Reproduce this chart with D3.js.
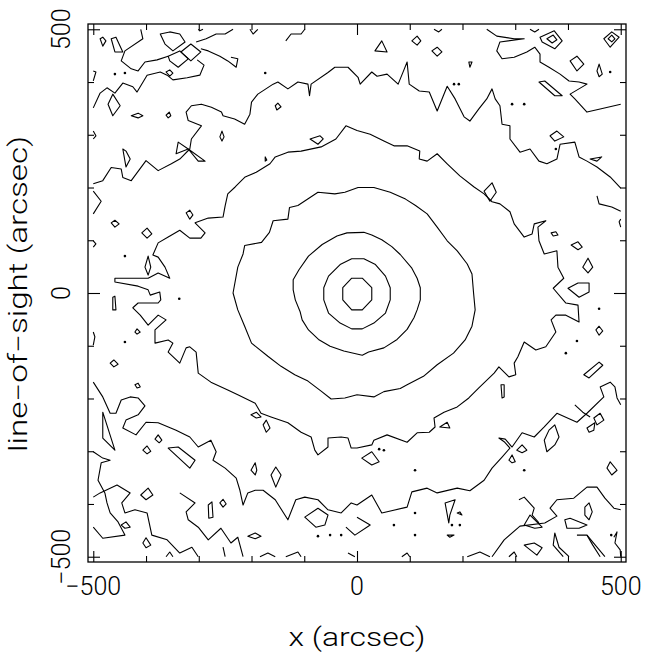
<!DOCTYPE html>
<html>
<head>
<meta charset="utf-8">
<script src="https://cdn.jsdelivr.net/npm/d3@7"></script>
<style>
	body { margin: 0; background: #fff; }
	text { font-family: Roboto, "Liberation Sans", sans-serif; font-weight: 300; font-size: 25px; fill: #000; }
</style>
</head>
<body>
<script>
// contour lines, in arcsec
var innerRing = [[-10,28],[10,28],[28,10],[28,-13],[10,-32],[-10,-32],[-27,-13],[-27,10]];
var ring2 = [[-10,65],[13,65],[35,54],[54,32],[63,10],[63,-13],[54,-38],[32,-57],[10,-68],[-10,-68],[-32,-57],[-54,-38],[-63,-13],[-63,10],[-54,32],[-32,54]];
var ring3 = [[13,115],[28,110],[47,101],[66,88],[82,73],[104,47],[114,28],[120,10],[120,-13],[114,-32],[108,-47],[95,-69],[76,-88],[51,-104],[22,-112],[10,-118],[-25,-110],[-51,-101],[-73,-88],[-92,-70],[-104,-51],[-108,-35],[-117,-13],[-121,6],[-121,25],[-110,44],[-92,70],[-66,92],[-38,108],[-19,114]];
var ring4 = [[2,200],[32,200],[63,191],[92,178],[111,166],[133,150],[152,125],[171,99],[190,80],[209,55],[218,36],[221,0],[224,-32],[218,-63],[205,-89],[183,-114],[152,-136],[126,-158],[95,-174],[82,-181],[51,-187],[32,-197],[0,-193],[-23,-199],[-49,-201],[-68,-186],[-93,-167],[-118,-155],[-144,-139],[-169,-120],[-200,-95],[-213,-63],[-226,-32],[-235,0],[-226,49],[-216,74],[-213,90],[-181,96],[-166,115],[-159,137],[-131,140],[-128,162],[-112,166],[-74,191],[-42,188],[-23,191]];
var ring5 = [[0,308],[25,301],[51,288],[70,279],[95,279],[119,269],[118,254],[133,250],[152,264],[171,245],[195,222],[222,201],[241,188],[256,173],[271,169],[290,154],[298,131],[317,106],[332,112],[336,131],[358,137],[343,125],[345,99],[355,74],[379,80],[381,49],[392,28],[372,9],[396,-19],[419,-23],[421,-55],[396,-42],[377,-42],[368,-51],[377,-74],[358,-102],[339,-108],[317,-93],[305,-121],[298,-133],[301,-155],[288,-159],[269,-140],[260,-152],[231,-180],[212,-199],[190,-216],[165,-226],[146,-237],[148,-254],[137,-264],[114,-265],[95,-283],[57,-269],[32,-279],[28,-288],[0,-294],[-11,-294],[-17,-275],[-30,-273],[-55,-275],[-55,-292],[-74,-307],[-80,-298],[-87,-273],[-106,-264],[-131,-246],[-163,-235],[-182,-228],[-193,-209],[-226,-193],[-245,-184],[-277,-169],[-301,-152],[-305,-112],[-317,-102],[-324,-104],[-336,-133],[-358,-112],[-349,-95],[-358,-89],[-383,-95],[-383,-70],[-362,-51],[-377,-42],[-396,-61],[-411,-42],[-425,-28],[-415,-19],[-377,-19],[-372,-13],[-374,2],[-392,-4],[-396,6],[-415,13],[-459,21],[-459,28],[-396,28],[-377,38],[-355,28],[-364,49],[-377,68],[-387,72],[-377,95],[-358,106],[-336,119],[-317,104],[-296,104],[-288,114],[-307,133],[-282,142],[-254,144],[-250,165],[-245,188],[-231,201],[-212,220],[-191,229],[-165,245],[-155,258],[-131,267],[-106,269],[-68,277],[-40,292],[-21,317]];
var outerTop = [[-500,207],[-482,213],[-466,238],[-447,235],[-444,219],[-428,213],[-400,251],[-377,232],[-352,245],[-336,254],[-317,273],[-314,292],[-295,317],[-320,327],[-324,343],[-314,355],[-295,358],[-276,352],[-257,343],[-254,336],[-232,330],[-213,320],[-203,339],[-200,362],[-188,377],[-159,396],[-150,400],[-131,387],[-112,400],[-93,396],[-90,374],[-87,396],[-55,418],[-42,428],[-17,428],[2,409],[6,396],[28,419],[38,411],[57,415],[78,396],[89,423],[95,438],[99,396],[118,383],[137,381],[152,345],[171,392],[186,368],[203,334],[214,326],[231,349],[246,368],[256,387],[262,368],[271,355],[275,320],[290,317],[290,292],[309,267],[328,273],[345,250],[360,245],[379,254],[385,282],[413,286],[421,258],[436,250],[455,239],[480,220],[500,199]];
var outerBottom = [[-500,-169],[-482,-197],[-468,-228],[-457,-228],[-447,-203],[-430,-197],[-415,-199],[-402,-214],[-415,-231],[-438,-241],[-444,-256],[-419,-269],[-400,-245],[-377,-246],[-343,-260],[-317,-273],[-301,-292],[-277,-279],[-267,-301],[-273,-317],[-250,-332],[-229,-351],[-222,-374],[-216,-402],[-207,-379],[-193,-374],[-178,-374],[-155,-392],[-131,-430],[-116,-392],[-99,-387],[-74,-392],[-55,-411],[-30,-417],[-11,-398],[0,-402],[28,-383],[47,-417],[95,-406],[104,-377],[133,-370],[152,-379],[190,-370],[214,-375],[241,-355],[256,-332],[275,-311],[290,-294],[279,-282],[269,-275],[281,-277],[294,-292],[313,-265],[336,-273],[355,-254],[379,-228],[417,-245],[436,-228],[468,-197],[461,-178],[480,-169],[489,-178],[493,-199],[500,-212]];
var noisePieces = [
	[[-410,500],[-406,482],[-440,459],[-447,440],[-428,425],[-415,421],[-402,438],[-379,442],[-358,449]],
	[[-500,351],[-487,379],[-474,389],[-459,379],[-444,398],[-425,391],[-417,381],[-398,413],[-373,419],[-360,413],[-349,404],[-322,408],[-298,413],[-290,432],[-303,442]],
	[[-305,476],[-286,482],[-267,491],[-250,491],[-235,500]],
	[[-296,463],[-282,459],[-260,449],[-245,440],[-229,428],[-226,444],[-239,447]],
	[[-301,500],[-298,497],[-292,500]],
	[[-203,500],[-197,491],[-188,500]],
	[[-135,478],[-125,491],[-106,491],[-99,500]],
	[[-500,421],[-495,419],[-500,402]],
	[[-500,307],[-495,298],[-500,292]],
	[[-500,193],[-485,174],[-500,150]],
	[[-500,99],[-495,93],[-500,87]],
	[[-500,-74],[-497,-83],[-500,-99]],
	[[246,500],[265,487],[298,482],[317,482],[271,476],[265,459],[275,444],[298,447],[322,457],[337,466],[347,453],[347,438],[364,428],[385,415],[402,402],[421,400],[436,396],[404,377],[413,368],[436,343],[461,349],[500,358]],
	[[146,500],[155,495],[161,500]],
	[[328,500],[337,495],[345,500]],
	[[455,184],[459,169],[483,163],[500,155]],
	[[500,140],[497,135],[500,125]],
	[[-500,-301],[-482,-313],[-468,-317],[-485,-322],[-491,-355],[-478,-379],[-474,-398],[-468,-417],[-453,-434],[-440,-459],[-482,-465],[-500,-444]],
	[[-500,-387],[-487,-379],[-455,-364],[-430,-379],[-446,-398],[-440,-417],[-421,-411],[-398,-417],[-389,-459],[-360,-468],[-336,-493],[-313,-482],[-301,-500]],
	[[-336,-379],[-307,-398],[-324,-415],[-320,-430],[-301,-444],[-282,-468],[-258,-446],[-239,-474],[-226,-463],[-216,-500]],
	[[-254,-482],[-250,-500]],
	[[-362,-500],[-355,-491],[-349,-500]],
	[[-184,-500],[-169,-493],[-155,-500]],
	[[-135,-500],[-112,-491],[-106,-500]],
	[[-17,-493],[-4,-500]],
	[[-21,-444],[-4,-459],[25,-440],[0,-425]],
	[[413,-212],[428,-226],[442,-235]],
	[[307,-392],[317,-387],[336,-408],[332,-421],[345,-436]],
	[[256,-500],[279,-468],[309,-442],[356,-436],[379,-423],[366,-408],[379,-392],[411,-389],[436,-368],[455,-368],[470,-389],[487,-408],[500,-411]],
	[[209,-500],[233,-491],[252,-500]],
	[[391,-500],[372,-478],[375,-455],[383,-482],[402,-500]],
	[[417,-459],[436,-459],[470,-500]],
	[[436,-459],[447,-478],[461,-500]],
	[[487,-463],[493,-453],[489,-474],[499,-487],[500,-500]],
	[[85,-500],[95,-493],[100,-500]],
	[[288,-500],[298,-491],[303,-500]]
];
var islands = [
	[[-373,491],[-355,495],[-336,491],[-326,476],[-349,459],[-364,472]],
	[[-334,457],[-315,472],[-296,457],[-315,440]],
	[[-358,449],[-336,459],[-320,444],[-339,428],[-355,440]],
	[[-487,482],[-482,485],[-476,478],[-482,468]],
	[[-466,482],[-457,485],[-444,457],[-459,457]],
	[[-362,419],[-355,423],[-349,417],[-355,411]],
	[[-472,358],[-463,377],[-449,355],[-463,336]],
	[[-428,336],[-415,341],[-406,336],[-415,332]],
	[[-362,337],[-356,343],[-353,336],[-358,332]],
	[[-444,273],[-438,269],[-430,254],[-438,239]],
	[[-260,296],[-256,307],[-252,296],[-256,288]],
	[[-155,355],[-150,360],[-144,353],[-152,347]],
	[[-89,292],[-70,298],[-64,292],[-74,282]],
	[[-174,258],[-171,252],[-174,250]],
	[[-339,286],[-320,273],[-343,264]],
	[[-320,273],[-288,250],[-301,250]],
	[[34,459],[47,478],[57,457]],
	[[104,478],[114,487],[121,478],[114,470]],
	[[142,459],[152,466],[161,457],[152,449]],
	[[212,438],[214,428],[218,438]],
	[[347,485],[374,497],[389,478],[375,463],[351,476]],
	[[360,482],[372,489],[379,480],[370,474]],
	[[404,440],[417,449],[430,434],[417,421]],
	[[455,421],[459,434],[465,415],[459,410]],
	[[468,482],[483,495],[497,485],[480,466]],
	[[476,482],[483,489],[489,482],[483,476]],
	[[345,400],[356,402],[389,374],[375,374]],
	[[366,298],[379,307],[392,296],[375,288]],
	[[442,254],[464,258],[455,250]],
	[[241,193],[256,209],[264,191],[252,174]],
	[[-466,133],[-459,138],[-451,131],[-459,125]],
	[[-408,114],[-398,123],[-389,112],[-398,104]],
	[[-324,152],[-317,157],[-311,148],[-317,140]],
	[[-402,49],[-396,70],[-391,49],[-396,34]],
	[[-463,-8],[-459,-6],[-457,-32],[-463,-32]],
	[[-421,-74],[-417,-68],[-411,-74],[-417,-78]],
	[[-468,-133],[-461,-127],[-453,-135],[-461,-140]],
	[[-421,-174],[-415,-171],[-411,-178],[-417,-180]],
	[[368,114],[377,116],[381,110],[372,108]],
	[[406,91],[419,97],[427,87],[419,82]],
	[[428,49],[438,66],[447,49],[438,38]],
	[[400,9],[419,19],[440,19],[440,2],[421,-8]],
	[[453,-70],[459,-63],[466,-72],[459,-80]],
	[[430,-155],[459,-131],[466,-137],[440,-161]],
	[[273,-174],[279,-174],[279,-197],[275,-199]],
	[[-410,-383],[-396,-370],[-387,-383],[-400,-392]],
	[[-447,-440],[-438,-434],[-430,-444],[-440,-446]],
	[[-406,-474],[-400,-464],[-391,-478],[-400,-483]],
	[[-282,-402],[-275,-396],[-273,-425],[-281,-427]],
	[[-260,-398],[-254,-391],[-248,-400],[-254,-406]],
	[[-207,-461],[-193,-455],[-182,-461],[-193,-466]],
	[[-201,-336],[-193,-322],[-190,-336],[-193,-345]],
	[[-163,-345],[-154,-330],[-144,-345],[-154,-368]],
	[[-99,-425],[-74,-408],[-55,-421],[-61,-440],[-78,-444]],
	[[-358,-294],[-339,-292],[-307,-317],[-317,-332]],
	[[-406,-298],[-398,-290],[-391,-300],[-398,-305]],
	[[-383,-277],[-377,-269],[-370,-279],[-375,-284]],
	[[-201,-231],[-191,-226],[-182,-235],[-191,-237]],
	[[-178,-250],[-172,-241],[-165,-256],[-172,-264]],
	[[-482,-226],[-459,-298],[-482,-275]],
	[[9,-313],[28,-301],[42,-320],[28,-326]],
	[[157,-254],[171,-245],[176,-256]],
	[[167,-398],[186,-392],[176,-421],[174,-436]],
	[[190,-417],[195,-415],[199,-421]],
	[[171,-459],[184,-459],[176,-463]],
	[[288,-317],[294,-307],[300,-320],[294,-322]],
	[[303,-298],[313,-288],[322,-298],[313,-303]],
	[[355,-279],[364,-260],[375,-250],[383,-273],[375,-288],[360,-301]],
	[[436,-256],[451,-246],[449,-260],[440,-264]],
	[[449,-237],[461,-228],[468,-241],[455,-250]],
	[[474,-332],[480,-320],[493,-336],[483,-345]],
	[[432,-406],[440,-398],[446,-415],[440,-430],[432,-421]],
	[[394,-430],[404,-427],[436,-440],[421,-446],[398,-446]],
	[[317,-440],[328,-421],[351,-444],[337,-446]],
	[[317,-478],[336,-474],[351,-483],[341,-497]]
];
var specks = [[-440,417],[-459,415],[-174,417],[480,419],[377,273],[-440,70],[-337,-11],[-440,-93],[459,-30],[396,-114],[417,-91],[184,396],[193,396],[294,358],[317,358],[42,-296],[51,-298],[110,-336],[317,-336],[70,-440],[110,-417],[110,-459],[482,-459],[180,-440],[195,-440],[-74,-461],[-51,-459],[-30,-459]];

var axisTicks = [-500, -400, -300, -200, -100, 0, 100, 200, 300, 400, 500];
var majorTicks = [-500, 0, 500];
var tickLabels = ["\u2212500", "0", "500"];

var x = d3.scaleLinear().domain([-510, 510]).range([88, 626]);
var y = d3.scaleLinear().domain([-510, 510]).range([562, 24]);

var svg = d3.select("body")
	.append("svg")
	.attr("width", 646)
	.attr("height", 656);

var line = d3.line()
	.x((d) => x(d[0]))
	.y((d) => y(d[1]));

var closedLine = d3.line()
	.x((d) => x(d[0]))
	.y((d) => y(d[1]))
	.curve(d3.curveLinearClosed);

var contours = svg.append("g")
	.style("fill", "none")
	.style("stroke", "#000")
	.style("stroke-width", 1.1)
	.style("stroke-linejoin", "round");

contours.selectAll(".ring")
	.data([innerRing, ring2, ring3, ring4, ring5].concat(islands))
	.join("path")
	.attr("class", "ring")
	.attr("d", closedLine);

contours.selectAll(".open")
	.data([outerTop, outerBottom].concat(noisePieces))
	.join("path")
	.attr("class", "open")
	.attr("d", line);

svg.selectAll(".speck")
	.data(specks)
	.join("circle")
	.attr("class", "speck")
	.attr("cx", (d) => x(d[0]))
	.attr("cy", (d) => y(d[1]))
	.attr("r", 1.3)
	.style("fill", "#000");

// ticks inward on all four sides
function ticks(axis, tx, ty, vals, size) {
	var g = svg.append("g")
		.attr("transform", "translate(" + tx + "," + ty + ")")
		.call(axis.tickValues(vals).tickSize(-size).tickFormat(""));
	g.select(".domain").remove();
	g.selectAll("line").style("stroke", "#000").style("stroke-width", 1.1);
}
var minor = axisTicks.filter((d) => majorTicks.indexOf(d) < 0);
ticks(d3.axisBottom(x), 0, 562, minor, 6);
ticks(d3.axisBottom(x), 0, 562, majorTicks, 11);
ticks(d3.axisTop(x), 0, 24, minor, 6);
ticks(d3.axisTop(x), 0, 24, majorTicks, 11);
ticks(d3.axisLeft(y), 88, 0, minor, 6);
ticks(d3.axisLeft(y), 88, 0, majorTicks, 12);
ticks(d3.axisRight(y), 626, 0, minor, 6);
ticks(d3.axisRight(y), 626, 0, majorTicks, 12);

svg.append("rect")
	.attr("x", x(-510))
	.attr("y", y(510))
	.attr("width", x(510) - x(-510))
	.attr("height", y(-510) - y(510))
	.style("fill", "none")
	.style("stroke", "#000")
	.style("stroke-width", 1.3);

svg.selectAll(".xlabel")
	.data(majorTicks)
	.join("text")
	.attr("class", "xlabel")
	.attr("x", (d) => x(d))
	.attr("y", 595)
	.style("text-anchor", "middle")
	.text((d, i) => tickLabels[i]);

svg.selectAll(".ylabel")
	.data(majorTicks)
	.join("text")
	.attr("class", "ylabel")
	.attr("transform", (d) => "translate(70," + y(d) + ") rotate(-90)")
	.style("text-anchor", "middle")
	.text((d, i) => tickLabels[i]);

svg.append("text")
	.attr("x", 357)
	.attr("y", 646)
	.style("text-anchor", "middle")
	.attr("textLength", 137)
	.attr("lengthAdjust", "spacingAndGlyphs")
	.text("x (arcsec)");

svg.append("text")
	.attr("transform", "translate(27,294) rotate(-90)")
	.style("text-anchor", "middle")
	.attr("textLength", 316)
	.attr("lengthAdjust", "spacingAndGlyphs")
	.text("line\u2212of\u2212sight (arcsec)");
</script>
</body>
</html>
